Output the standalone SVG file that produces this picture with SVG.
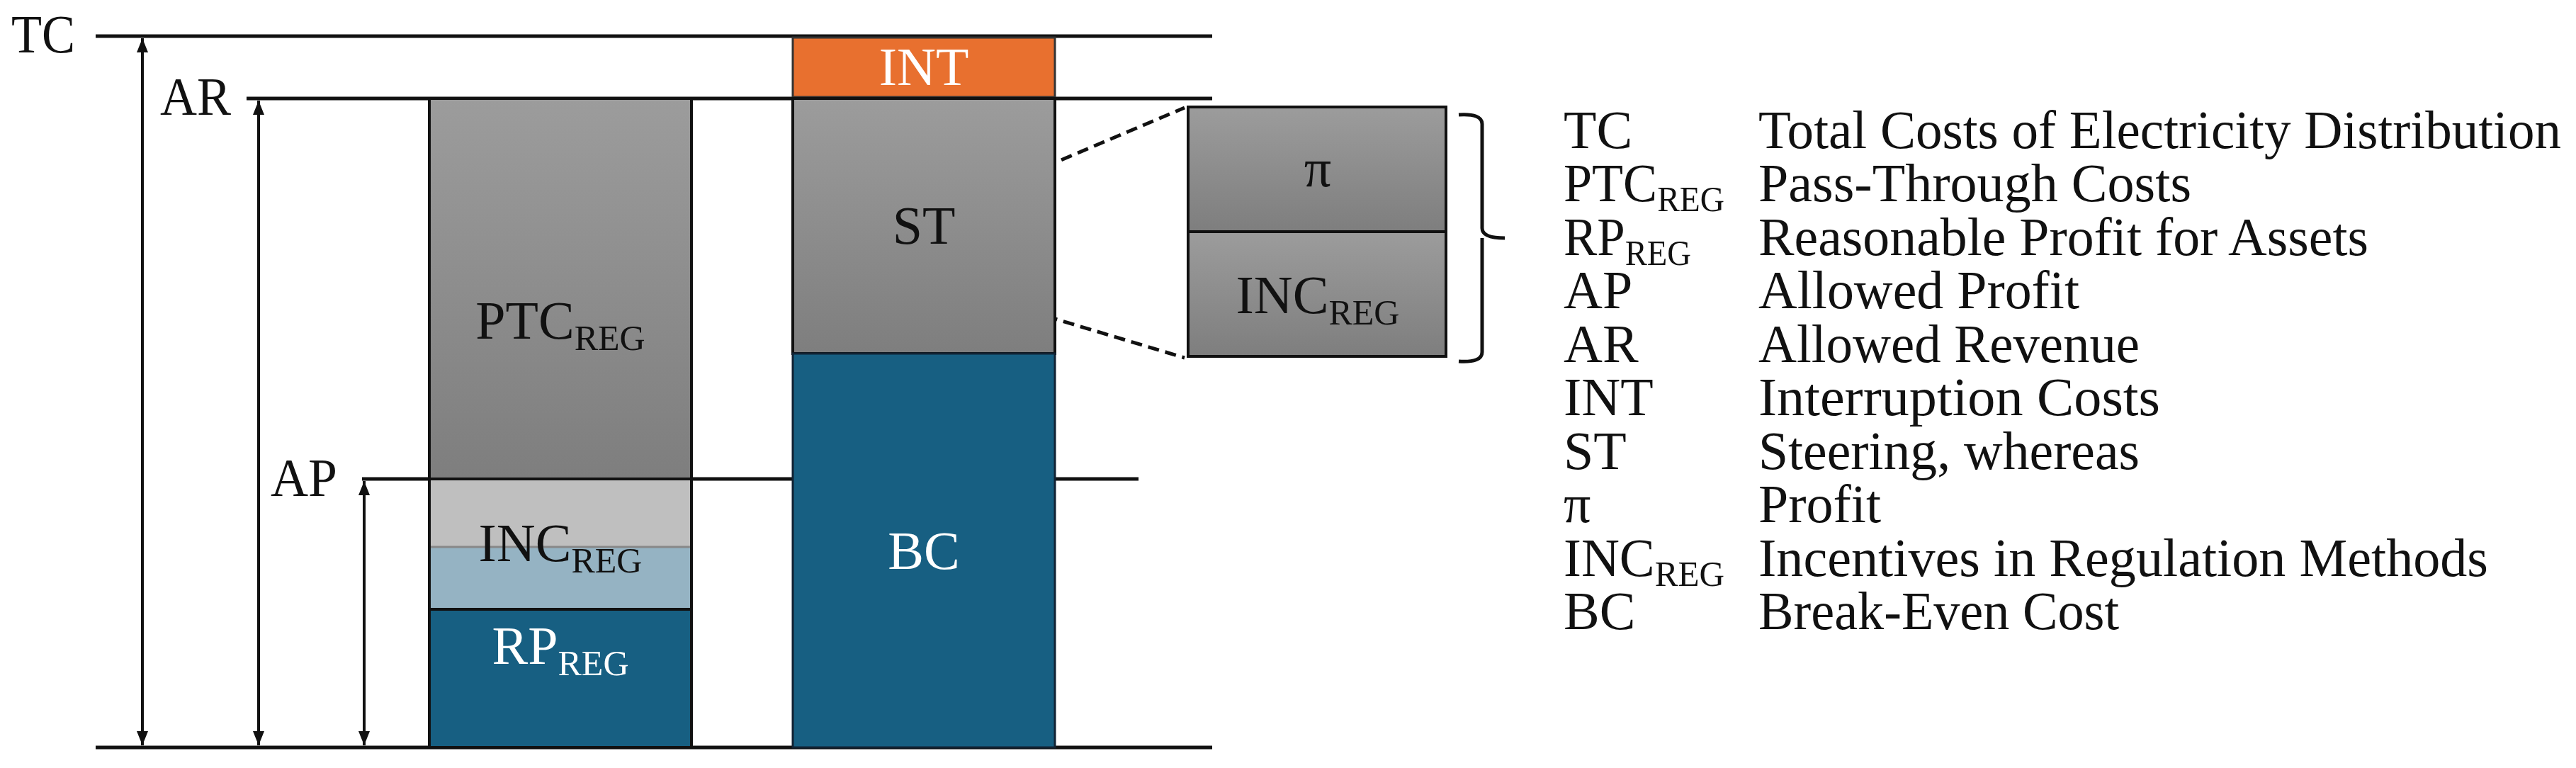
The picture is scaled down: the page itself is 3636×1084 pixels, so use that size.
<svg xmlns="http://www.w3.org/2000/svg" width="3636" height="1084" viewBox="0 0 3636 1084">
<style>
text{font-family:"Liberation Serif","Times New Roman",serif;font-size:76px;fill:#111}
.w{fill:#fff}
.sub{font-size:50px}
.ln{stroke:#111;stroke-width:5;fill:none}
.bx{stroke:#111;stroke-width:4}
.arr{stroke:#111;stroke-width:4;marker-start:url(#ah);marker-end:url(#ah)}
.dash{stroke:#111;stroke-width:5;stroke-dasharray:16 9;fill:none}
</style>
<defs>
<linearGradient id="g" x1="0" y1="0" x2="0" y2="1"><stop offset="0" stop-color="#9c9c9c"/><stop offset="1" stop-color="#7e7e7e"/></linearGradient>
<marker id="ah" viewBox="0 0 10 10" refX="10" refY="5" markerWidth="7" markerHeight="5" orient="auto-start-reverse"><path d="M0,1 L10,5 L0,9 z" fill="#111"/></marker>
</defs>
<g id="levels">
<line class="ln" x1="135" y1="51" x2="1711" y2="51"/>
<line class="ln" x1="348" y1="139" x2="1711" y2="139"/>
<line class="ln" x1="511" y1="676" x2="1607" y2="676"/>
<line class="ln" x1="135" y1="1055" x2="1711" y2="1055"/>
<text x="16" y="74" textLength="90" lengthAdjust="spacingAndGlyphs">TC</text>
<text x="226" y="162" textLength="100" lengthAdjust="spacingAndGlyphs">AR</text>
<text x="382" y="700" textLength="94" lengthAdjust="spacingAndGlyphs">AP</text>
</g>
<g id="connectors">
<line class="arr" x1="201" y1="54" x2="201" y2="1052"/>
<line class="arr" x1="365" y1="142" x2="365" y2="1052"/>
<line class="arr" x1="514" y1="679" x2="514" y2="1052"/>
<line class="dash" x1="1429" y1="255" x2="1672" y2="152"/>
<line class="dash" x1="1429" y1="432" x2="1672" y2="505"/>
</g>
<g id="ptc"><rect class="bx" x="606" y="139" width="370" height="537" fill="url(#g)"/>
<text x="791" y="478" text-anchor="middle">PTC<tspan class="sub" dy="16">REG</tspan></text></g>
<g id="inc"><rect x="606" y="676" width="370" height="96" fill="#bfbfbf"/><rect x="606" y="772" width="370" height="88" fill="#95b3c3"/>
<line x1="606" y1="772" x2="976" y2="772" stroke="#888" stroke-width="3"/>
<rect class="bx" x="606" y="676" width="370" height="184" fill="none"/>
<text x="791" y="792" text-anchor="middle">INC<tspan class="sub" dy="16">REG</tspan></text></g>
<g id="rp"><rect class="bx" x="606" y="860" width="370" height="195" fill="#175f82"/>
<text class="w" x="791" y="937" text-anchor="middle">RP<tspan class="sub w" dy="16">REG</tspan></text></g>
<g id="int"><rect x="1119" y="53" width="370" height="84" fill="#e8702f" stroke="#333" stroke-width="3"/>
<text class="w" x="1304" y="120" text-anchor="middle">INT</text></g>
<g id="st"><rect class="bx" x="1119" y="139" width="370" height="360" fill="url(#g)"/>
<text x="1304" y="344" text-anchor="middle">ST</text></g>
<g id="bc"><rect x="1119" y="499" width="370" height="556" fill="#175f82" stroke="#123" stroke-width="3"/>
<text class="w" x="1304" y="803" text-anchor="middle">BC</text></g>
<g id="pi"><rect class="bx" x="1677" y="151" width="364" height="176" fill="url(#g)"/>
<text x="1860" y="263" text-anchor="middle">π</text></g>
<g id="inc2"><rect class="bx" x="1677" y="327" width="364" height="176" fill="url(#g)"/>
<text x="1860" y="442" text-anchor="middle">INC<tspan class="sub" dy="16">REG</tspan></text></g>
<g id="brace"><path class="ln" d="M2059,162 Q2092,160 2092,175 L2092,322 Q2092,336 2124,336 M2092,336 Q2092,350 2092,350 L2092,497 Q2092,512 2059,510"/></g>
<g id="legend">
<text x="2207" y="209">TC</text><text x="2482" y="209" textLength="1133" lengthAdjust="spacingAndGlyphs">Total Costs of Electricity Distribution</text>
<text x="2207" y="284" textLength="227" lengthAdjust="spacingAndGlyphs">PTC<tspan class="sub" dy="14">REG</tspan></text><text x="2482" y="284" textLength="611" lengthAdjust="spacingAndGlyphs">Pass-Through Costs</text>
<text x="2207" y="360" textLength="180" lengthAdjust="spacingAndGlyphs">RP<tspan class="sub" dy="14">REG</tspan></text><text x="2482" y="360" textLength="861" lengthAdjust="spacingAndGlyphs">Reasonable Profit for Assets</text>
<text x="2207" y="435">AP</text><text x="2482" y="435" textLength="453" lengthAdjust="spacingAndGlyphs">Allowed Profit</text>
<text x="2207" y="511">AR</text><text x="2482" y="511" textLength="538" lengthAdjust="spacingAndGlyphs">Allowed Revenue</text>
<text x="2207" y="586">INT</text><text x="2482" y="586" textLength="567" lengthAdjust="spacingAndGlyphs">Interruption Costs</text>
<text x="2207" y="662">ST</text><text x="2482" y="662" textLength="538" lengthAdjust="spacingAndGlyphs">Steering, whereas</text>
<text x="2207" y="737">π</text><text x="2482" y="737" textLength="173" lengthAdjust="spacingAndGlyphs">Profit</text>
<text x="2207" y="813" textLength="227" lengthAdjust="spacingAndGlyphs">INC<tspan class="sub" dy="14">REG</tspan></text><text x="2482" y="813" textLength="1030" lengthAdjust="spacingAndGlyphs">Incentives in Regulation Methods</text>
<text x="2207" y="888">BC</text><text x="2482" y="888" textLength="509" lengthAdjust="spacingAndGlyphs">Break-Even Cost</text>
</g>
</svg>
